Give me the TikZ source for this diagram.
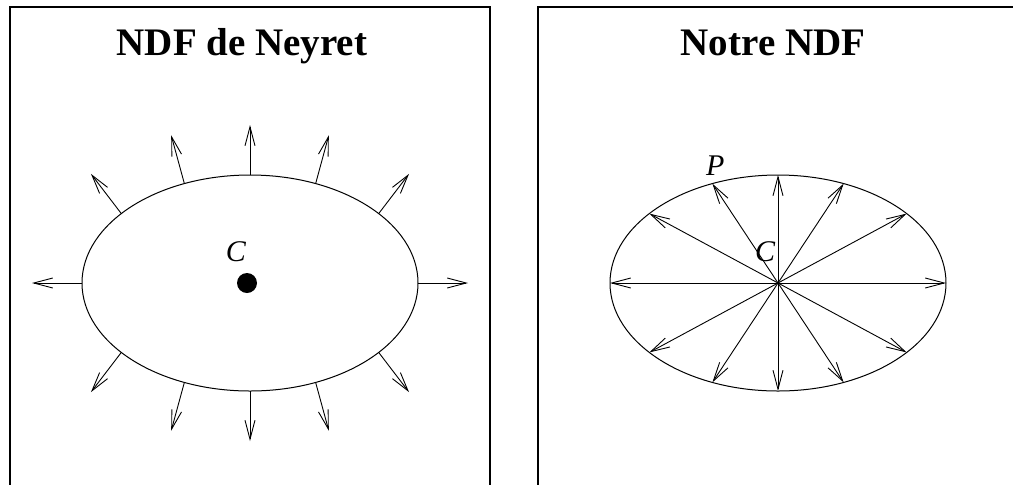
\documentclass[tikz,border=0pt]{standalone}
\usepackage{fontspec}
\setmainfont{Liberation Serif}
\usetikzlibrary{arrows.meta, calc}

\begin{document}
\begin{tikzpicture}[
  x=0.5pt, y=-0.5pt,
  panel/.style={draw, line width=1pt},
  contour/.style={draw, line width=0.5pt},
  normale/.style={-{Straight Barb[length=9.5pt, width=5pt]}, line width=0.45pt},
  titre/.style={font=\fontsize{19.5}{23}\selectfont\bfseries, anchor=base, inner sep=0pt},
  lbl/.style={font=\fontsize{15}{17}\selectfont\itshape, anchor=base, inner sep=0pt}
]
  \clip (0,0) rectangle (1013,484);

  % left panel
  \draw[panel] (10,7) rectangle (490,520);
  \node[titre] (T1) at (242,55) {NDF de Neyret};
  \coordinate (CL) at (250,283);
  \draw[contour] (CL) ellipse [x radius=84pt, y radius=54pt];
  \fill (247,283) circle [radius=5pt];
  \node[lbl] (LC1) at (236,261) {C};
  \foreach \t [count=\i] in {0,40,67,90,113,140,180,220,247,270,293,320} {
    \pgfmathsetmacro{\n}{atan2(sin(\t)/108, cos(\t)/168)}
    \coordinate (A\i) at ($(CL)+({168*cos(\t)},{-108*sin(\t)})$);
    \coordinate (B\i) at ($(A\i)+({50*cos(\n)},{-50*sin(\n)})$);
    \draw[normale] (A\i) -- (B\i);
  }

  % right panel
  \draw[panel] (538,7) rectangle (1030,520);
  \node[titre] (T2) at (773,55) {Notre NDF};
  \coordinate (CR) at (778,283);
  \draw[contour] (CR) ellipse [x radius=84pt, y radius=54pt];
  \foreach \t [count=\i] in {0,40,67,90,113,140,180,220,247,270,293,320} {
    \coordinate (P\i) at ($(CR)+({168*cos(\t)},{-108*sin(\t)})$);
    \draw[normale] (CR) -- (P\i);
  }
  \node[lbl] (LC2) at (765,261) {C};
  \node[lbl] (LP) at ($(P5)+(3,-8)$) {P};
\end{tikzpicture}
\end{document}
